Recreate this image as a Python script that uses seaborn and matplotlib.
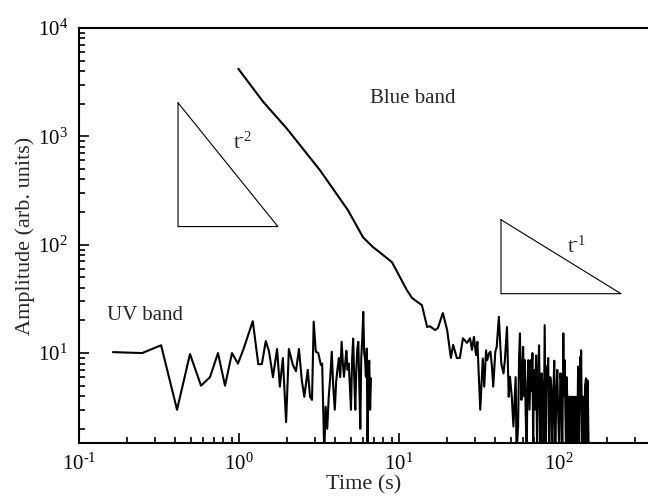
import numpy as np
import pandas as pd
import seaborn as sns
import matplotlib.pyplot as plt
from matplotlib import ticker

# UV band
uv_time = [0.163, 0.248, 0.326, 0.41, 0.494, 0.579, 0.659, 0.739, 0.818, 0.904,
           0.985, 1.07, 1.14, 1.22, 1.32, 1.39, 1.47, 1.54, 1.63, 1.73,
           1.80, 1.88, 1.97, 2.05, 2.17, 2.27, 2.37, 2.47, 2.56, 2.69,
           2.78, 2.86, 2.93, 3.02, 3.13, 3.25, 3.31, 3.41, 3.48, 3.56,
           3.64, 3.72, 3.80, 3.88, 3.97, 4.05, 4.13, 4.21, 4.29, 4.38,
           4.46, 4.53, 4.61, 4.69, 4.77, 4.85, 4.93, 5.01, 5.09, 5.17,
           5.25, 5.33, 5.41, 5.49, 5.57, 5.65, 5.73, 5.81, 5.90, 5.98,
           6.06, 6.13, 6.21, 6.29, 6.36, 6.44, 6.52, 6.60, 6.68]
uv_amp = [10.2, 10.0, 11.8, 3.0, 9.8, 5.0, 6.0, 10.0, 5.0, 10.0,
          8.0, 11.0, 14.6, 19.7, 7.9, 7.9, 12.9, 10.4, 6.0, 10.9,
          4.9, 9.0, 2.3, 10.9, 7.8, 6.8, 10.9, 5.6, 3.95, 7.0,
          3.95, 3.7, 19.5, 10.3, 10.0, 7.75, 8.0, 1.2, 3.2, 2.0,
          4.0, 6.05, 10.3, 5.0, 3.0, 5.5, 7.2, 9.0, 6.0, 12.7,
          8.0, 6.05, 8.0, 10.5, 7.0, 8.0, 5.0, 3.0, 8.5, 13.6,
          6.0, 3.0, 7.0, 11.0, 12.7, 5.0, 2.0, 9.0, 14.0, 24.0,
          10.0, 8.9, 6.05, 11.0, 1.2, 6.5, 8.5, 3.0, 5.85]

# Blue band
blue_time = [0.99, 1.41, 2.0, 3.21, 4.80, 5.96, 6.88, 7.29, 9.04, 11.2,
             12.1, 13.9, 15.0, 15.6, 16.8, 17.5, 18.8, 20.0, 21.1, 21.8,
             23.0, 24.0, 25.1, 26.6, 27.8, 28.6, 29.4, 30.3, 30.9, 32.2,
             33.4, 34.1, 35.0, 35.6, 36.6, 37.3, 38.1, 38.8, 40.0, 40.8,
             42.1, 42.9, 43.6, 45.0, 45.9, 47.3, 48.5, 49.4, 50.7, 51.9,
             52.8, 53.6, 54.3, 55.5, 56.3, 57.0, 58.2, 59.0, 59.7, 60.4,
             61.1, 62.0, 62.8, 63.5, 64.3, 65.4, 66.6, 67.4, 68.2, 69.0,
             69.6, 70.4, 71.2, 72.0, 73.0, 74.0, 75.1, 75.8, 76.6, 77.8,
             79.1, 80.2, 81.4, 82.1, 82.8, 83.6, 84.4, 85.6, 86.9, 88.2,
             89.5, 90.8, 92.1, 93.4, 94.8, 96.2, 97.6, 99.0, 100.5, 102.0,
             103.4, 104.9, 106.4, 107.5, 108.6, 109.6, 110.7, 111.6, 112.6, 113.8,
             114.9, 116.0, 117.2, 118.6, 120.0, 121.0, 122.0, 123.5, 124.9, 126.3,
             127.7, 129.7, 131.7, 133.6, 135.6, 136.5, 137.5, 138.7, 139.9, 141.7,
             143.5, 145.5, 147.6, 149.0, 150.6, 152.0, 153.3]
blue_amp = [4207, 2100, 1170, 486, 208, 117, 95, 89, 69, 38.1,
            32.1, 27.7, 17.4, 17.7, 16.3, 17.0, 23.4, 16.3, 9.0, 11.9,
            9.0, 9.0, 13.7, 12.4, 13.7, 10.7, 14.1, 9.6, 12.7, 3.0,
            8.9, 4.9, 10.6, 8.6, 10.0, 10.3, 7.5, 4.9, 10.3, 11.4,
            21.6, 12.3, 8.0, 6.5, 8.6, 17.4, 3.95, 6.05, 3.95, 2.1,
            3.7, 6.0, 1.2, 2.1, 9.0, 15.2, 3.7, 6.5, 11.4, 4.0,
            8.6, 2.5, 1.2, 5.0, 8.6, 3.0, 8.6, 4.5, 10.0, 1.2,
            7.0, 3.0, 5.6, 9.5, 1.2, 6.0, 11.8, 3.5, 1.2, 6.5,
            4.6, 1.2, 18.1, 5.0, 1.2, 7.5, 4.9, 9.0, 1.2, 6.0,
            4.9, 1.2, 3.95, 8.5, 1.2, 4.0, 7.0, 2.5, 1.2, 6.5,
            5.3, 1.2, 15.2, 4.0, 8.6, 3.0, 1.2, 6.0, 3.95, 1.2,
            3.95, 1.2, 3.95, 1.2, 3.95, 1.2, 3.95, 1.2, 3.95, 1.2,
            3.95, 1.2, 7.5, 1.2, 9.2, 4.0, 10.6, 3.0, 1.2, 3.95,
            1.2, 5.0, 5.85, 1.2, 5.6, 3.0, 1.2]

# slope guide triangles
tri2_x = [0.416, 0.416, 1.75, 0.416]
tri2_y = [2040, 147, 147, 2040]
tri1_x = [43.4, 43.4, 244, 43.4]
tri1_y = [170, 35.3, 35.3, 170]

sns.set_style('ticks')
plt.rcParams['font.family'] = ['Liberation Serif', 'DejaVu Serif']
plt.rcParams['mathtext.fontset'] = 'custom'
plt.rcParams['mathtext.rm'] = 'Liberation Serif'
plt.rcParams['mathtext.it'] = 'Liberation Serif:italic'
plt.rcParams['mathtext.default'] = 'regular'
plt.rcParams['axes.unicode_minus'] = False


def pow10(v, pos):
    e = int(round(np.log10(v)))
    s = str(e).replace('-', r'\text{-}')
    return r'$\mathregular{10^{%s}}$' % s


fig = plt.figure(figsize=(6.48, 4.97), dpi=100)
ax = fig.add_axes([0.1219, 0.1087, 0.8781, 0.835])

df_uv = pd.DataFrame({'t': uv_time, 'a': uv_amp})
df_blue = pd.DataFrame({'t': blue_time, 'a': blue_amp})
sns.lineplot(data=df_uv, x='t', y='a', color='black', lw=1.5, estimator=None, ax=ax)
sns.lineplot(data=df_blue, x='t', y='a', color='black', lw=1.5, estimator=None, ax=ax)

ax.plot(tri2_x, tri2_y, color='black', lw=0.8)
ax.plot(tri1_x, tri1_y, color='black', lw=0.8)

ax.set_xscale('log')
ax.set_yscale('log')
ax.set_xlim(0.1, 360)
ax.set_ylim(1.48, 1e4)

ax.text(6.59, 2240, 'Blue band', fontsize=15, ha='left', va='center')
ax.text(0.150, 22.4, 'UV band', fontsize=15, ha='left', va='center')
ax.text(0.917, 861, r'$\mathregular{t^{\text{-}2}}$', fontsize=15, ha='left', va='center')
ax.text(112, 94.9, r'$\mathregular{t^{\text{-}1}}$', fontsize=15, ha='left', va='center')

ax.set_xlabel('Time (s)', fontsize=16, labelpad=0)
ax.set_ylabel('Amplitude (arb. units)', fontsize=16, labelpad=2)

ax.xaxis.set_major_locator(ticker.LogLocator(base=10))
ax.yaxis.set_major_locator(ticker.LogLocator(base=10))
ax.xaxis.set_minor_locator(ticker.LogLocator(base=10, subs=np.arange(2, 10)))
ax.yaxis.set_minor_locator(ticker.LogLocator(base=10, subs=np.arange(2, 10)))
ax.xaxis.set_major_formatter(ticker.FuncFormatter(pow10))
ax.yaxis.set_major_formatter(ticker.FuncFormatter(pow10))
ax.xaxis.set_minor_formatter(ticker.NullFormatter())
ax.yaxis.set_minor_formatter(ticker.NullFormatter())

ax.tick_params(which='both', direction='in', top=False, right=False, width=1.2,
               labelsize=15, colors='black')
ax.tick_params(which='major', length=7, pad=8)
ax.tick_params(which='minor', length=4.5)

for side in ['left', 'bottom', 'top']:
    ax.spines[side].set_linewidth(1.5)
    ax.spines[side].set_color('black')
ax.spines['right'].set_visible(False)

plt.savefig('out.png', dpi=100)
